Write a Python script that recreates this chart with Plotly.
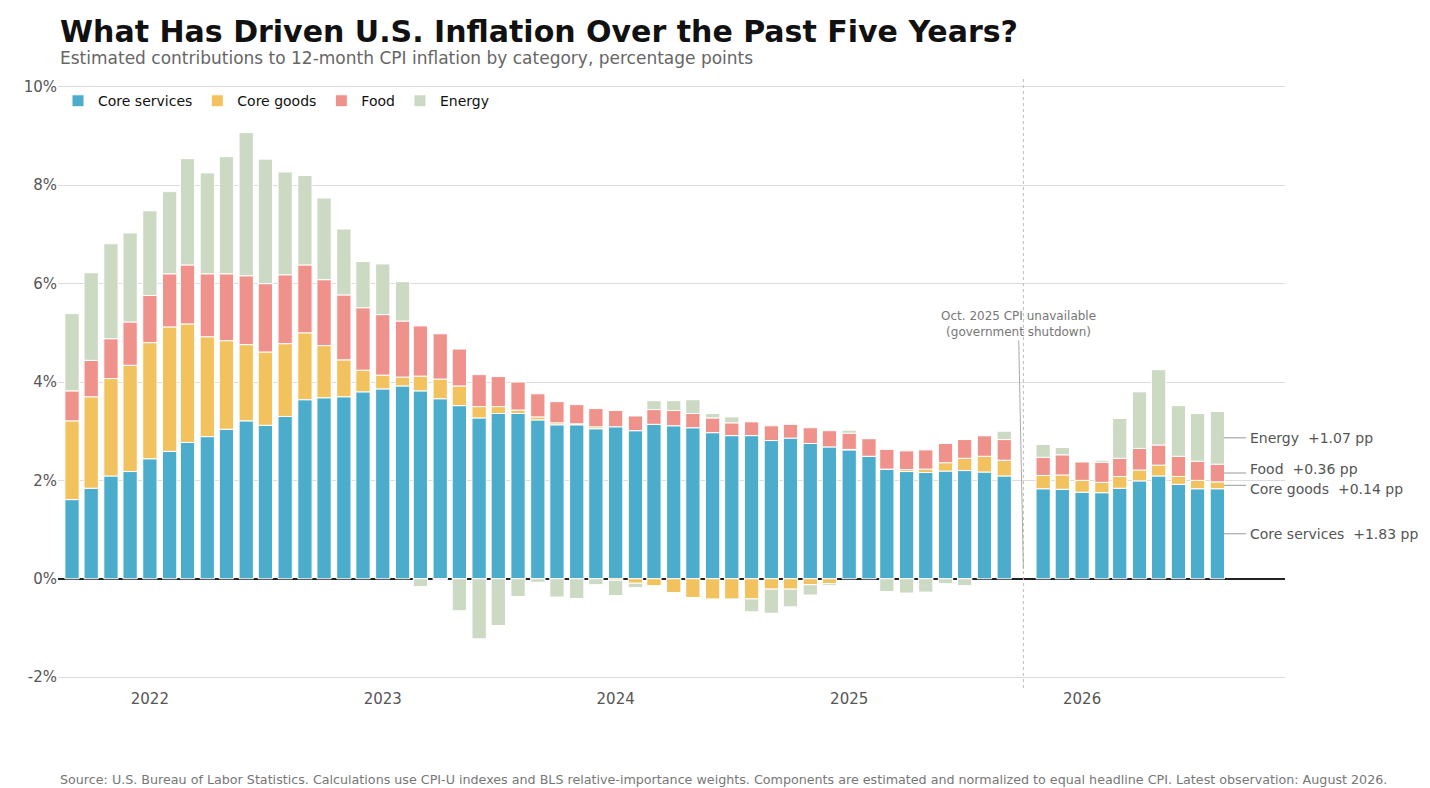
import pandas as pd
import plotly.graph_objects as go

# months Sep 2021 - Aug 2026, Oct 2025 missing (shutdown)
months = [d for d in pd.date_range("2021-09-01", "2026-08-01", freq="MS") if d != pd.Timestamp("2025-10-01")]

core_services = [1.61, 1.84, 2.09, 2.18, 2.44, 2.59, 2.77, 2.89, 3.04, 3.21, 3.12, 3.30,
                 3.64, 3.68, 3.70, 3.80, 3.86, 3.92, 3.82, 3.66, 3.52, 3.27, 3.36, 3.36,
                 3.23, 3.13, 3.13, 3.05, 3.09, 3.01, 3.14, 3.11, 3.07, 2.97, 2.91, 2.91,
                 2.81, 2.86, 2.75, 2.68, 2.62, 2.49, 2.23, 2.18, 2.16, 2.19, 2.20, 2.17,
                 2.09, 1.83, 1.82, 1.76, 1.75, 1.84, 1.99, 2.09, 1.92, 1.83, 1.83]
core_goods = [1.60, 1.86, 1.98, 2.16, 2.36, 2.53, 2.41, 2.03, 1.80, 1.55, 1.49, 1.48,
              1.36, 1.06, 0.75, 0.44, 0.28, 0.18, 0.30, 0.40, 0.40, 0.23, 0.14, 0.07,
              0.06, 0.04, 0.02, 0.04, -0.03, -0.09, -0.14, -0.28, -0.38, -0.41, -0.41, -0.41,
              -0.21, -0.21, -0.12, -0.10, 0.01, 0.0, 0.0, 0.04, 0.07, 0.17, 0.25, 0.32,
              0.32, 0.27, 0.29, 0.24, 0.21, 0.24, 0.22, 0.22, 0.16, 0.17, 0.14]
food = [0.61, 0.74, 0.81, 0.88, 0.96, 1.08, 1.20, 1.28, 1.36, 1.40, 1.39, 1.40,
        1.38, 1.34, 1.32, 1.27, 1.23, 1.14, 1.02, 0.92, 0.75, 0.65, 0.61, 0.57,
        0.47, 0.43, 0.39, 0.37, 0.33, 0.30, 0.30, 0.31, 0.29, 0.30, 0.26, 0.28,
        0.30, 0.28, 0.32, 0.33, 0.33, 0.36, 0.40, 0.38, 0.39, 0.39, 0.38, 0.42,
        0.42, 0.37, 0.41, 0.38, 0.41, 0.37, 0.44, 0.41, 0.41, 0.39, 0.36]
energy = [1.57, 1.78, 1.93, 1.81, 1.72, 1.67, 2.16, 2.05, 2.38, 2.91, 2.53, 2.09,
          1.82, 1.66, 1.34, 0.94, 1.03, 0.80, -0.16, -0.02, -0.65, -1.22, -0.95, -0.36,
          -0.07, -0.37, -0.40, -0.12, -0.31, -0.09, 0.18, 0.20, 0.28, 0.09, 0.12, -0.26,
          -0.49, -0.36, -0.21, -0.04, 0.06, 0.0, -0.26, -0.29, -0.27, -0.10, -0.14, 0.0,
          0.17, 0.26, 0.15, 0.0, 0.04, 0.81, 1.15, 1.53, 1.03, 0.97, 1.07]

y_ticks = [-2, 0, 2, 4, 6, 8, 10]

series = [("Core services", core_services, "#4BADCB"),
          ("Core goods", core_goods, "#F2C25F"),
          ("Food", food, "#F0928C"),
          ("Energy", energy, "#CCD9C3")]

fig = go.Figure()
for name, vals, col in series:
    fig.add_trace(go.Bar(x=months, y=vals, name=name, marker_color=col,
                         marker_line=dict(color="white", width=1)))

# end labels for latest month
last = months[-1]
cum = 0
label_y = {}
for name, vals, col in series[:3]:
    label_y[name] = cum + vals[-1] / 2
    cum += vals[-1]
label_y["Energy"] = cum + energy[-1] / 2
offs = {"Core services": 0, "Core goods": -0.07, "Food": 0.08, "Energy": 0}
for name, vals, col in series:
    y = label_y[name]
    fig.add_shape(type="line", x0=last + pd.Timedelta(days=10), x1=last + pd.Timedelta(days=45),
                  y0=y, y1=y, line=dict(color="#999", width=1))
    fig.add_annotation(x=last + pd.Timedelta(days=48), y=y + offs[name], xanchor="left",
                       text=f"{name}  +{vals[-1]:.2f} pp", showarrow=False,
                       font=dict(size=14, color="#555"))

gap = pd.Timestamp("2025-10-01")
fig.add_shape(type="line", x0=gap, x1=gap, y0=0, y1=1, yref="paper",
              line=dict(color="#bbb", width=1, dash="dot"))
fig.add_annotation(x=gap, y=0.2, ax=-5, ay=-245, text="Oct. 2025 CPI unavailable<br>(government shutdown)",
                   showarrow=True, arrowhead=0, arrowcolor="#aaa", arrowwidth=1,
                   font=dict(size=12, color="#777"), standoff=0)

fig.add_annotation(x=0, y=1.072, xref="paper", yref="paper", xanchor="left", yanchor="middle",
                   showarrow=False,
                   text="<b>What Has Driven U.S. Inflation Over the Past Five Years?</b>",
                   font=dict(size=30, color="#111"))
fig.add_annotation(x=0, y=1.03, xref="paper", yref="paper", xanchor="left", yanchor="middle",
                   showarrow=False,
                   text="Estimated contributions to 12-month CPI inflation by category, percentage points",
                   font=dict(size=17, color="#666"))
fig.add_annotation(x=0, y=-0.15, xref="paper", yref="paper", xanchor="left", yanchor="middle",
                   showarrow=False,
                   text="Source: U.S. Bureau of Labor Statistics. Calculations use CPI-U indexes and BLS relative-importance weights. "
                        "Components are estimated and normalized to equal headline CPI. Latest observation: August 2026.",
                   font=dict(size=12.7, color="#777"))

fig.update_layout(
    width=1430, height=788, barmode="relative", bargap=0.2,
    margin=dict(l=50, r=153, t=68, b=108, autoexpand=False),
    plot_bgcolor="white", paper_bgcolor="white",
    font=dict(family="DejaVu Sans", color="#555"),
    legend=dict(orientation="h", x=0, y=0.985, xanchor="left", yanchor="top",
                font=dict(size=14, color="#111"), bgcolor="rgba(255,255,255,0)"),
    xaxis=dict(range=["2021-08-10", "2026-11-15"], tickformat="%Y", dtick="M12",
               tick0="2022-01-01", showgrid=False, ticks="", automargin=False,
               tickfont=dict(size=15, color="#555")),
    yaxis=dict(range=[-2.22, 10.22], tickvals=y_ticks, ticktext=[f"{v}%" for v in y_ticks],
               gridcolor="#dcdcdc", automargin=False,
               zeroline=True, zerolinecolor="#222", zerolinewidth=1.5,
               tickfont=dict(size=15, color="#555")),
)
fig.write_html("out.html")
